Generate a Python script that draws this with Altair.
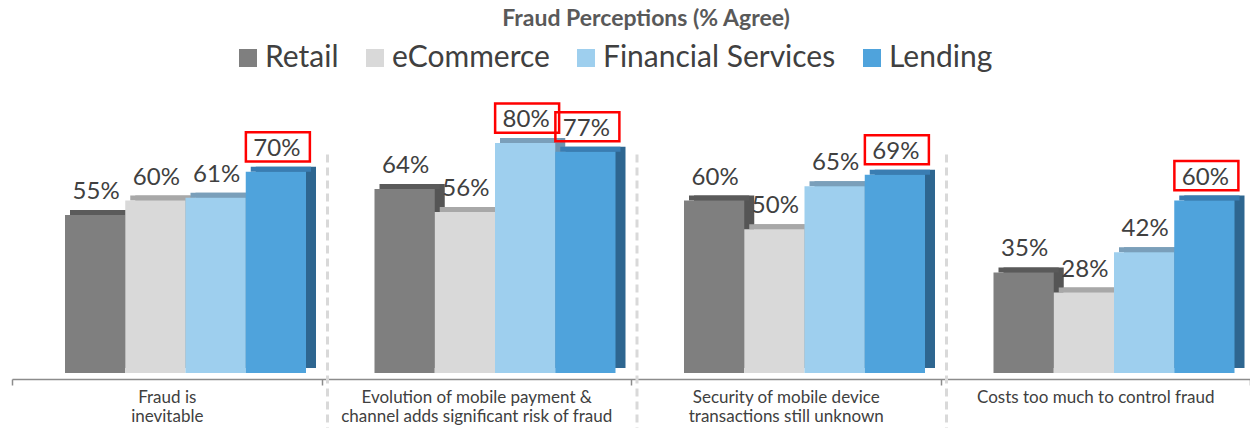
import altair as alt
import pandas as pd

# ---- data -------------------------------------------------------------
categories = [
    "Fraud is|inevitable",
    "Evolution of mobile payment &|channel adds significant risk of fraud",
    "Security of mobile device|transactions still unknown",
    "Costs too much to control fraud",
]
series = ["Retail", "eCommerce", "Financial Services", "Lending"]
retail = [55, 64, 60, 35]
ecommerce = [60, 56, 50, 28]
financial = [61, 80, 65, 42]
lending = [70, 77, 69, 60]
# which values carry a red box
boxed_financial = [False, True, False, False]
boxed_lending = [True, True, True, True]

# ---- styles -----------------------------------------------------------
front_colors = ["#7f7f7f", "#d9d9d9", "#9ecfee", "#4fa3dc"]
top_colors = ["#5a5a5a", "#a8a8a8", "#7a9fba", "#3a7db2"]
side_colors = ["#555555", "#a0a0a0", "#6f93ae", "#2e6690"]
FONT = "Lato"
TXT = "#404040"

rows = []
values = [retail, ecommerce, financial, lending]
boxes = [[False] * 4, [False] * 4, boxed_financial, boxed_lending]
for si, s in enumerate(series):
    for ci, c in enumerate(categories):
        rows.append({
            "category": c,
            "series": s,
            "value": values[si][ci],
            "label": f"{values[si][ci]}%",
            "boxed": boxes[si][ci],
        })
df = pd.DataFrame(rows)
sep_df = pd.DataFrame({"category": categories[1:], "top": [76] * 3})

# placement of the 4-bar group inside each category band (pixels)
G0, G1 = 53, 294
BAR = (G1 - G0) / len(series)

x_enc = alt.X(
    "category:N",
    sort=categories,
    scale=alt.Scale(paddingInner=0, paddingOuter=0),
    axis=alt.Axis(
        title=None,
        labelExpr="split(datum.label, '|')",
        labelAngle=0,
        labelFont=FONT,
        labelFontSize=17,
        labelColor=TXT,
        labelLineHeight=19,
        labelLimit=400,
        labelPadding=4,
        labelBaseline="top",
        domainColor="#8c8c8c",
        domainWidth=1.5,
        tickColor="#8c8c8c",
        tickWidth=1.5,
        tickSize=6,
        tickBand="extent",
        offset=6,
    ),
)


def xo_band(shift):
    return alt.XOffset(
        "series:N", sort=series,
        scale=alt.Scale(domain=series, range=[G0 + shift, G1 + shift],
                        paddingOuter=0, paddingInner=0),
    )


def xo_point(shift):
    return alt.XOffset(
        "series:N", sort=series,
        scale=alt.Scale(type="point", domain=series, padding=0,
                        range=[G0 + BAR / 2 + shift, G1 - BAR / 2 + shift]),
    )


y_scale = alt.Scale(domain=[0, 95], nice=False)
y_enc = alt.Y("value:Q", scale=y_scale, axis=None)

base = alt.Chart(df)

side = base.mark_bar(yOffset=-5, y2Offset=-5).encode(
    x=x_enc, xOffset=xo_band(10), y=y_enc,
    fill=alt.Fill("series:N", sort=series,
                  scale=alt.Scale(domain=series, range=side_colors), legend=None),
)
top = base.mark_bar(yOffset=-5, y2Offset=0).encode(
    x=x_enc, xOffset=xo_band(5), y=y_enc, y2="value:Q",
    fill=alt.Fill("series:N", sort=series,
                  scale=alt.Scale(domain=series, range=top_colors), legend=None),
)
front = base.mark_bar().encode(
    x=x_enc, xOffset=xo_band(0), y=y_enc,
    color=alt.Color(
        "series:N", sort=series,
        scale=alt.Scale(domain=series, range=front_colors),
        legend=alt.Legend(
            orient="none", legendX=221, legendY=-57, direction="horizontal",
            title=None, symbolType="square", symbolSize=324,
            symbolStrokeWidth=0, labelFont=FONT, labelFontSize=30,
            labelColor=TXT, labelLimit=400, labelOffset=2, columnPadding=21,
        ),
    ),
)
labels = base.mark_text(
    dy=-16, baseline="alphabetic", align="center",
    font=FONT, fontSize=24, color=TXT,
).encode(x=x_enc, xOffset=xo_point(1), y=y_enc, text="label:N")

box_shape = "M-1,-0.455L1,-0.455L1,0.455L-1,0.455Z"
boxes_layer = base.transform_filter("datum.boxed").mark_point(
    shape=box_shape, size=4096, filled=False, color="#ff0000",
    strokeWidth=2.5, opacity=1, yOffset=-25,
).encode(x=x_enc, xOffset=xo_point(2), y=y_enc)

bars = alt.layer(side, top, front, boxes_layer, labels).resolve_scale(
    fill="independent", color="independent", xOffset="independent"
)

seps = alt.Chart(sep_df).mark_rule(
    color="#d9d9d9", strokeWidth=3, strokeDash=[8, 5], xOffset=6,
).encode(
    x=alt.X("category:N", bandPosition=0, axis=None,
            scale=alt.Scale(domain=categories, paddingInner=0, paddingOuter=0)),
    y=alt.Y("top:Q", scale=y_scale, axis=None),
    y2=alt.value(328),
)

chart = alt.layer(seps, bars).resolve_scale(x="independent").properties(
    width=1238,
    height=273,
    autosize=alt.AutoSizeParams(type="none"),
    padding={"left": 4, "right": 0, "top": 92, "bottom": 55},
    title=alt.TitleParams(
        "Fraud Perceptions (% Agree)", font=FONT, fontSize=23,
        fontWeight="bold", color="#595959", anchor="middle", offset=12, dx=15,
    ),
).configure_view(stroke=None)

chart.save("out.html", embed_options={"renderer": "svg", "actions": False})
